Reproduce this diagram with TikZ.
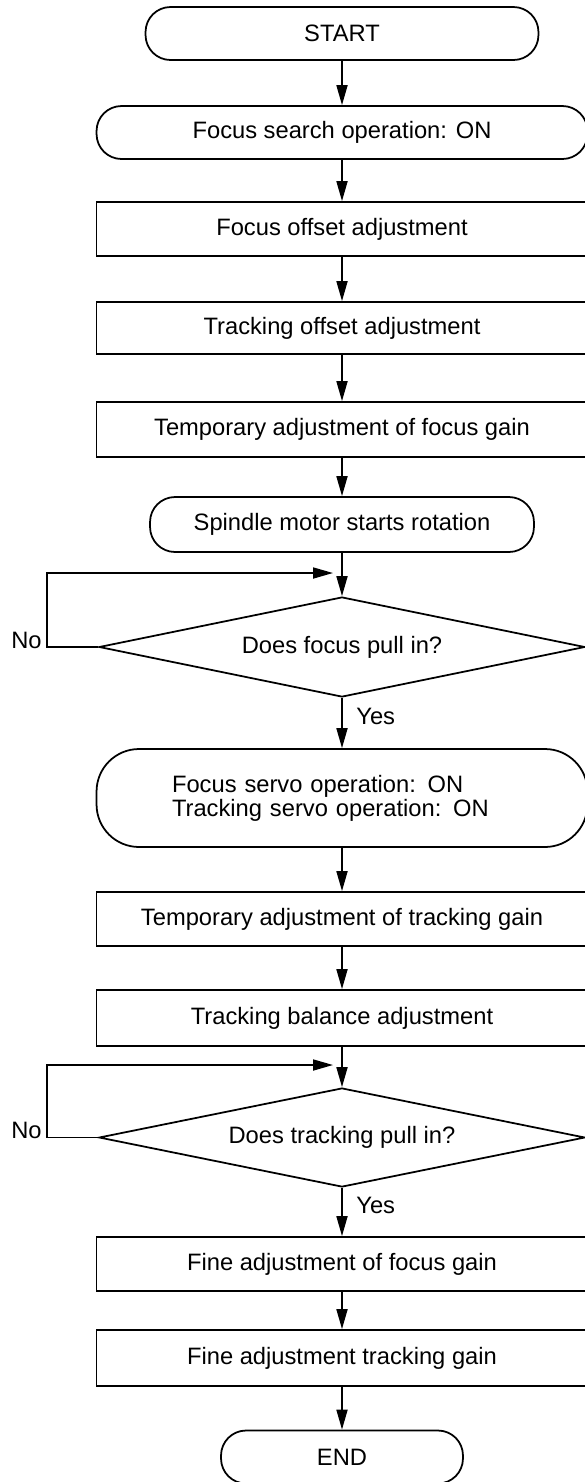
\documentclass[tikz,border=0pt]{standalone}
\usepackage{fontspec}
\setmainfont{Liberation Sans}
\usetikzlibrary{arrows.meta,shapes.geometric}

\tikzset{
  every node/.style={font=\fontsize{13.5}{15}\selectfont},
  box/.style={draw, line width=1pt, rectangle, minimum width=9.82cm,
    minimum height=1.08cm, inner sep=2pt},
  roundbox/.style={box, rounded corners=0.5cm},
  decision/.style={draw, line width=1pt, diamond, aspect=4.86,
    minimum width=9.72cm, minimum height=2cm, inner sep=0pt},
  arr/.style={line width=1pt, -{Triangle[length=0.4cm,width=0.22cm]}},
  lbl/.style={inner sep=0pt}
}

\begin{document}
\begin{tikzpicture}[x=0.02cm, y=-0.02cm]
  % page = 585 x 1482 units, y runs downwards
  \useasboundingbox (0,0) rectangle (585,1482);

  % Start and first steps
  \node[roundbox, minimum width=7.86cm, minimum height=1.06cm] (start) at (342,33.5) {START};
  \node[roundbox, minimum height=1.06cm] (search) at (342,132.5) {Focus search operation: ON};
  \node[box] (foffs) at (342,229) {Focus offset adjustment};
  \node[box, minimum height=1.04cm] (toffs) at (342,328) {Tracking offset adjustment};
  \node[box, minimum height=1.1cm] (tfgain) at (342,429.5) {Temporary adjustment of focus gain};
  \node[roundbox, minimum width=7.68cm, minimum height=1.1cm] (spindle) at (342,524.5) {Spindle motor starts rotation};

  % Focus pull-in check
  \node[decision] (d1) at (342,647) {Does focus pull in?};
  \node[roundbox, rounded corners=0.85cm, minimum height=1.96cm, align=left,
        inner xsep=1.51cm, text width=6.8cm,
        font=\fontsize{13.5}{11.5}\selectfont] (servo) at (342,798)
    {Focus servo operation: ON\\Tracking servo operation: ON};

  % Tracking steps
  \node[box] (ttgain) at (342,919) {Temporary adjustment of tracking gain};
  \node[box, minimum height=1.12cm] (tbal) at (342,1018) {Tracking balance adjustment};
  \node[decision, minimum height=1.98cm] (d2) at (342,1137.5) {Does tracking pull in?};

  % Fine adjustments and end
  \node[box] (ffgain) at (342,1264) {Fine adjustment of focus gain};
  \node[box, minimum height=1.12cm] (ftgain) at (342,1358) {Fine adjustment tracking gain};
  \node[roundbox, minimum width=4.84cm, minimum height=1.06cm] (stop) at (342,1457) {END};

  % Main flow
  \foreach \a/\b in {start/search, search/foffs, foffs/toffs, toffs/tfgain,
                     tfgain/spindle, spindle/d1, d1/servo, servo/ttgain,
                     ttgain/tbal, tbal/d2, d2/ffgain, ffgain/ftgain, ftgain/stop}
    \draw[arr] (\a) -- (\b);

  % "No" loops back above each decision
  \coordinate (m1) at (333,573);
  \coordinate (m2) at (333,1065);
  \draw[arr] (d1.west) -- ++(-51,0) |- (m1);
  \draw[arr] (d2.west) -- ++(-51,0) |- (m2);

  % Branch labels
  \node[lbl, anchor=base east] (no1) at (42,648) {No};
  \node[lbl, anchor=base west] (yes1) at (356,724) {Yes};
  \node[lbl, anchor=base east] (no2) at (42,1138) {No};
  \node[lbl, anchor=base west] (yes2) at (356,1213) {Yes};
\end{tikzpicture}
\end{document}
